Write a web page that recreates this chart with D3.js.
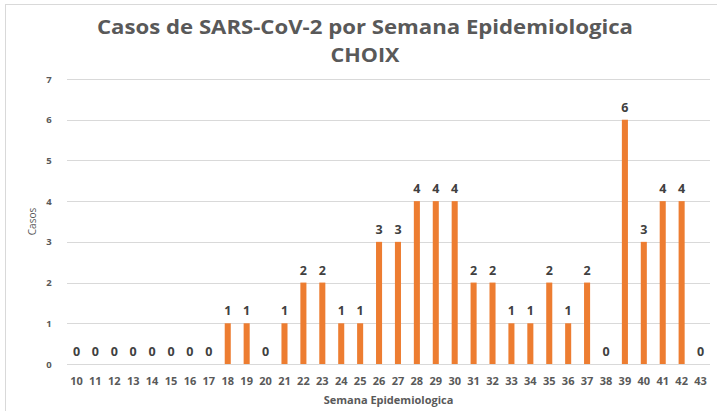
<!DOCTYPE html>
<html>
<head>
<meta charset="utf-8">
<script src="https://cdn.jsdelivr.net/npm/d3@7"></script>
<style>
  html, body { margin: 0; padding: 0; background: #fff; }
  svg { display: block; }
</style>
</head>
<body>
<svg id="chart" width="717" height="411"></svg>
<script>
// Weekly SARS-CoV-2 cases, Choix
const weeks = ["10","11","12","13","14","15","16","17","18","19","20","21","22","23","24","25","26","27","28","29","30","31","32","33","34","35","36","37","38","39","40","41","42","43"];
const cases = [0,0,0,0,0,0,0,0,1,1,0,1,2,2,1,1,3,3,4,4,4,2,2,1,1,2,1,2,0,6,3,4,4,0];
const yTicks = [0,1,2,3,4,5,6,7];

const titleLines = ["Casos de SARS-CoV-2 por Semana Epidemiologica", "CHOIX"];
const titleWidths = [536, 69];
const xTitle = "Semana Epidemiologica";
const yTitle = "Casos";

const svg = d3.select("#chart");
const W = 717, H = 411;
const plot = { left: 67, right: 710, top: 79, bottom: 364 };
const font = "Open Sans, Liberation Sans, sans-serif";

// chart frame
svg.append("rect")
  .attr("x", 5.5).attr("y", 4.5)
  .attr("width", W + 10).attr("height", H + 10)
  .attr("fill", "#fff").attr("stroke", "#d9d9d9").attr("stroke-width", 1);

const x = d3.scaleBand().domain(weeks).range([plot.left, plot.right]).paddingInner(0.68).paddingOuter(0.34);
const y = d3.scaleLinear().domain([0, 7]).range([plot.bottom, plot.top]);

// horizontal gridlines
svg.append("g")
  .selectAll("line")
  .data(yTicks)
  .join("line")
  .attr("x1", plot.left).attr("x2", plot.right)
  .attr("y1", d => Math.round(y(d)) + 0.5).attr("y2", d => Math.round(y(d)) + 0.5)
  .attr("stroke", "#d9d9d9").attr("stroke-width", 1);

// y axis labels
const yAxis = d3.axisLeft(y).tickValues(yTicks).tickFormat(d3.format("d")).tickSize(0).tickPadding(0);
svg.append("g")
  .attr("transform", `translate(${plot.left - 18},0)`)
  .call(yAxis)
  .call(g => g.select(".domain").remove())
  .call(g => g.selectAll("text")
    .attr("font-family", font).attr("font-size", 9.5).attr("font-weight", "bold")
    .attr("fill", "#595959").attr("text-anchor", "middle"));

// x axis labels
const xAxis = d3.axisBottom(x).tickSize(0).tickPadding(0);
svg.append("g")
  .attr("transform", `translate(0,${plot.bottom + 13})`)
  .call(xAxis)
  .call(g => g.select(".domain").remove())
  .call(g => g.selectAll("text")
    .attr("font-family", font).attr("font-size", 11).attr("font-weight", "bold")
    .attr("fill", "#595959"));

// bars
svg.append("g")
  .selectAll("rect")
  .data(weeks.map((w, i) => ({ w, v: cases[i] })))
  .join("rect")
  .attr("x", d => x(d.w))
  .attr("width", x.bandwidth())
  .attr("y", d => y(d.v))
  .attr("height", d => y(0) - y(d.v))
  .attr("fill", "#ed7d31");

// value labels
svg.append("g")
  .selectAll("text")
  .data(weeks.map((w, i) => ({ w, v: cases[i] })))
  .join("text")
  .attr("x", d => x(d.w) + x.bandwidth() / 2)
  .attr("y", d => y(d.v) - 8)
  .attr("text-anchor", "middle")
  .attr("font-family", font).attr("font-size", 12.5).attr("font-weight", "bold")
  .attr("fill", "#404040")
  .text(d => d.v);

// title
svg.append("g")
  .selectAll("text")
  .data(titleLines)
  .join("text")
  .attr("x", 365)
  .attr("y", (d, i) => 34 + i * 28)
  .attr("text-anchor", "middle")
  .attr("font-family", font).attr("font-size", 20).attr("font-weight", "bold")
  .attr("fill", "#595959")
  .attr("textLength", (d, i) => titleWidths[i])
  .attr("lengthAdjust", "spacingAndGlyphs")
  .text(d => d);

// axis titles
svg.append("text")
  .attr("x", (plot.left + plot.right) / 2).attr("y", 404)
  .attr("text-anchor", "middle")
  .attr("font-family", font).attr("font-size", 11).attr("font-weight", "bold")
  .attr("fill", "#595959")
  .text(xTitle);

svg.append("text")
  .attr("transform", `translate(36,${(plot.top + plot.bottom) / 2}) rotate(-90)`)
  .attr("text-anchor", "middle")
  .attr("font-family", font).attr("font-size", 10)
  .attr("fill", "#595959")
  .text(yTitle);
</script>
</body>
</html>
